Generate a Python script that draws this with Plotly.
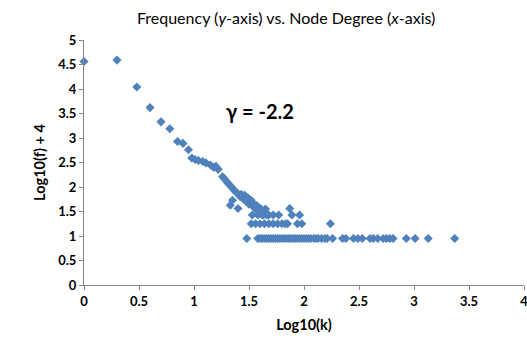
import plotly.graph_objects as go

# Log10(k) values (x) and Log10(f)+4 values (y)
chain_x = [0.00, 0.30, 0.48, 0.60, 0.70, 0.78, 0.85, 0.90, 0.95, 0.98, 1.01, 1.04, 1.08, 1.11, 1.15,
           1.18, 1.20, 1.22, 1.26, 1.28, 1.30, 1.32, 1.34, 1.36, 1.38, 1.40, 1.33, 1.35, 1.40,
           1.42, 1.43, 1.45, 1.46, 1.48, 1.49, 1.50, 1.52, 1.53, 1.54, 1.56, 1.57, 1.58, 1.60,
           1.61, 1.62, 1.64, 1.66]
chain_y = [4.56, 4.59, 4.04, 3.62, 3.33, 3.19, 2.93, 2.89, 2.76, 2.59, 2.56, 2.54, 2.52, 2.49, 2.45,
           2.40, 2.42, 2.36, 2.21, 2.16, 2.10, 2.05, 2.00, 1.95, 1.90, 1.86, 1.63, 1.73, 1.56,
           1.80, 1.85, 1.75, 1.83, 1.70, 1.78, 1.65, 1.73, 1.62, 1.66, 1.55, 1.62, 1.55, 1.48,
           1.55, 1.43, 1.50, 1.43]

row3_x = [1.53, 1.58, 1.63, 1.68, 1.72, 1.77, 1.89, 1.96]
row3_y = [1.43, 1.43, 1.43, 1.43, 1.43, 1.43, 1.43, 1.43]

row4_x = [1.60, 1.65, 1.87]
row4_y = [1.55, 1.55, 1.56]

row2_x = [1.52, 1.56, 1.60, 1.64, 1.68, 1.72, 1.76, 1.80, 1.83, 1.85, 1.94, 1.98, 2.24]
row2_y = [1.25, 1.25, 1.25, 1.25, 1.25, 1.25, 1.25, 1.25, 1.25, 1.25, 1.25, 1.25, 1.25]

row1_x = [1.48, 1.58, 1.60, 1.62, 1.64, 1.66, 1.68, 1.70, 1.72, 1.74, 1.76, 1.78, 1.80, 1.82,
          1.84, 1.86, 1.88, 1.90, 1.92, 1.94, 1.96, 1.98, 2.00, 2.02, 2.04, 2.06, 2.09, 2.11,
          2.13, 2.16, 2.19, 2.21, 2.26, 2.35, 2.38, 2.45, 2.49, 2.53, 2.60, 2.63, 2.67, 2.72,
          2.75, 2.78, 2.81, 2.93, 3.01, 3.13, 3.37]
row1_y = [0.95] * len(row1_x)

x_vals = chain_x + row3_x + row4_x + row2_x + row1_x
y_vals = chain_y + row3_y + row4_y + row2_y + row1_y

x_ticks = [0, 0.5, 1, 1.5, 2, 2.5, 3, 3.5, 4]
y_ticks = [0, 0.5, 1, 1.5, 2, 2.5, 3, 3.5, 4, 4.5, 5]

title_text = "Frequency (<i>y</i>-axis) vs. Node Degree (<i>x</i>-axis)"
gamma_text = "<b>γ = -2.2</b>"

fig = go.Figure()
fig.add_trace(go.Scatter(
    x=x_vals, y=y_vals, mode="markers",
    marker=dict(symbol="diamond", size=7, color="#4F81BD", line=dict(width=0)),
    cliponaxis=False, showlegend=False,
))

fig.update_layout(
    width=527, height=348,
    margin=dict(l=84, r=3, t=40, b=63),
    paper_bgcolor="white", plot_bgcolor="white",
    font=dict(family="Lato, Open Sans, sans-serif", color="#000000"),
    title=dict(text=title_text, x=0.543, xanchor="center", y=0.948, yanchor="middle",
               font=dict(size=16, color="#000000")),
    annotations=[dict(text=gamma_text, x=1.6, y=3.55, xref="x", yref="y",
                      showarrow=False, font=dict(size=20, color="#000000"))],
)
fig.update_xaxes(
    range=[0, 4], tickvals=x_ticks, ticktext=[f"<b>{v:g}</b>" for v in x_ticks],
    showgrid=False, zeroline=False, showline=True, linecolor="#868686", linewidth=1,
    ticks="outside", ticklen=4, tickcolor="#868686", tickfont=dict(size=13),
    ticklabeloverflow="allow", automargin=False,
    title=dict(text="<b>Log10(k)</b>", font=dict(size=14.5), standoff=12),
)
fig.update_yaxes(
    range=[0, 5], tickvals=y_ticks, ticktext=[f"<b>{v:g}</b>" for v in y_ticks],
    showgrid=False, zeroline=False, showline=True, linecolor="#868686", linewidth=1,
    ticks="outside", ticklen=4, tickcolor="#868686", tickfont=dict(size=13),
    automargin=False,
    title=dict(text="<b>Log10(f) + 4</b>", font=dict(size=14.5), standoff=9),
)

fig.write_html("out.html")
